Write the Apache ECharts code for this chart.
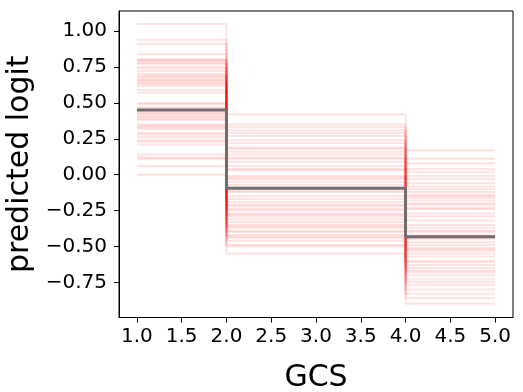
<!DOCTYPE html>
<html>
<head>
<meta charset="utf-8">
<script src="https://cdn.jsdelivr.net/npm/echarts@6/dist/echarts.min.js"></script>
<style>
html,body{margin:0;padding:0;background:#fff;}
#chart{width:523px;height:392px;}
</style>
</head>
<body>
<div id="chart"></div>
<script>
// GCS knots of the step function
var gcsKnots = [1, 2, 4, 5];
var xTicks = [1.0, 1.5, 2.0, 2.5, 3.0, 3.5, 4.0, 4.5, 5.0];
var yTicks = [-0.75, -0.5, -0.25, 0.0, 0.25, 0.5, 0.75, 1.0];

// bootstrap sample levels per segment (GCS 1-2, 2-4, 4-5)
var seg1 = [0.72, 1.05, 0.45, 0.29, 0.66, 0.84, 0.40, 0.12, 0.77, 0.57,
            0.43, 0.94, 0.63, 0.21, 0.50, 0.69, 0.35, 0.80, 0.06, 0.46,
            0.67, 0.28, 0.91, 0.42, 0.74, 0.14, 0.62, 0.49, 0.33, 0.78,
            0.00, 0.65, 0.41, 0.75, 0.23, 0.59, 0.38, 0.70, 0.44, 0.26,
            0.79, 0.11, 0.64, 0.47, 0.32, 0.68, 0.24, 0.39, 0.34, 0.80];
var seg2 = [-0.05, 0.35, -0.21, -0.43, 0.16, 0.42, -0.29, -0.55, 0.09, -0.12,
            -0.33, 0.31, -0.01, -0.49, -0.17, 0.24, -0.36, 0.12, -0.50, -0.09,
            0.04, -0.44, 0.33, -0.24, 0.19, -0.40, -0.02, -0.15, -0.31, 0.27,
            -0.46, 0.14, -0.22, 0.22, -0.39, 0.03, -0.27, 0.18, -0.11, -0.42,
            0.29, -0.37, 0.06, -0.19, -0.35, 0.11, -0.25, -0.03, -0.28, -0.07];
var seg3 = [-0.40, 0.11, -0.65, -0.80, -0.16, 0.17, -0.57, -0.90, -0.24, -0.47,
            -0.68, 0.04, -0.29, -0.86, -0.49, -0.06, -0.73, -0.18, -0.83, -0.42,
            -0.32, -0.77, 0.08, -0.55, -0.10, -0.75, -0.37, -0.45, -0.61, -0.03,
            -0.70, -0.21, -0.53, -0.08, -0.63, -0.27, -0.60, -0.14, -0.44, -0.67,
            0.02, -0.52, -0.23, -0.39, -0.51, -0.15, -0.35, -0.01, -0.12, -0.20];
// fitted shape function
var meanLevels = [0.45, -0.095, -0.432];

function stepPoints(a, b, c) {
  return [[gcsKnots[0], a], [gcsKnots[1], a], [gcsKnots[1], b],
          [gcsKnots[2], b], [gcsKnots[2], c], [gcsKnots[3], c]];
}

var series = [];
for (var i = 0; i < seg1.length; i++) {
  series.push({
    type: 'line', data: stepPoints(seg1[i], seg2[i], seg3[i]),
    symbol: 'none', silent: true, z: 2,
    lineStyle: {color: 'rgba(255,0,0,0.11)', width: 2}
  });
}
series.push({
  type: 'line', data: stepPoints(meanLevels[0], meanLevels[1], meanLevels[2]),
  symbol: 'none', silent: true, z: 5,
  lineStyle: {color: '#6e6e6e', width: 3}
});

var font = 'DejaVu Sans';
function fmtY(v) {
  var s = Math.abs(v).toFixed(2);
  return (v < -1e-9 ? '\u2212' : '') + s;
}

var chart = echarts.init(document.getElementById('chart'), null, {renderer: 'canvas'});
chart.setOption({
  animation: false,
  backgroundColor: '#fff',
  grid: {left: 119, right: 10, top: 11, bottom: 74.5, show: true,
         outerBoundsMode: 'none', containLabel: false,
         borderColor: '#000', borderWidth: 1, backgroundColor: '#fff'},
  xAxis: {
    type: 'value', min: 0.8, max: 5.2,
    name: 'GCS', nameLocation: 'middle', nameGap: 46,
    nameTextStyle: {fontFamily: font, fontSize: 30, color: '#000'},
    axisLine: {show: true, onZero: false, lineStyle: {color: '#000', width: 1}},
    axisTick: {show: true, length: 5, customValues: xTicks, lineStyle: {color: '#000'}},
    axisLabel: {customValues: xTicks, margin: 9, fontFamily: font, fontSize: 20, color: '#000',
                formatter: function (v) { return v.toFixed(1); }},
    splitLine: {show: false}
  },
  yAxis: {
    type: 'value', min: -0.995, max: 1.14,
    name: 'predicted logit', nameLocation: 'middle', nameGap: 84, nameRotate: 90,
    nameTextStyle: {fontFamily: font, fontSize: 30, color: '#000'},
    axisLine: {show: true, onZero: false, lineStyle: {color: '#000', width: 1}},
    axisTick: {show: true, length: 5, customValues: yTicks, lineStyle: {color: '#000'}},
    axisLabel: {customValues: yTicks, margin: 12, fontFamily: font, fontSize: 20, color: '#000',
                formatter: fmtY},
    splitLine: {show: false}
  },
  series: series
});
</script>
</body>
</html>
